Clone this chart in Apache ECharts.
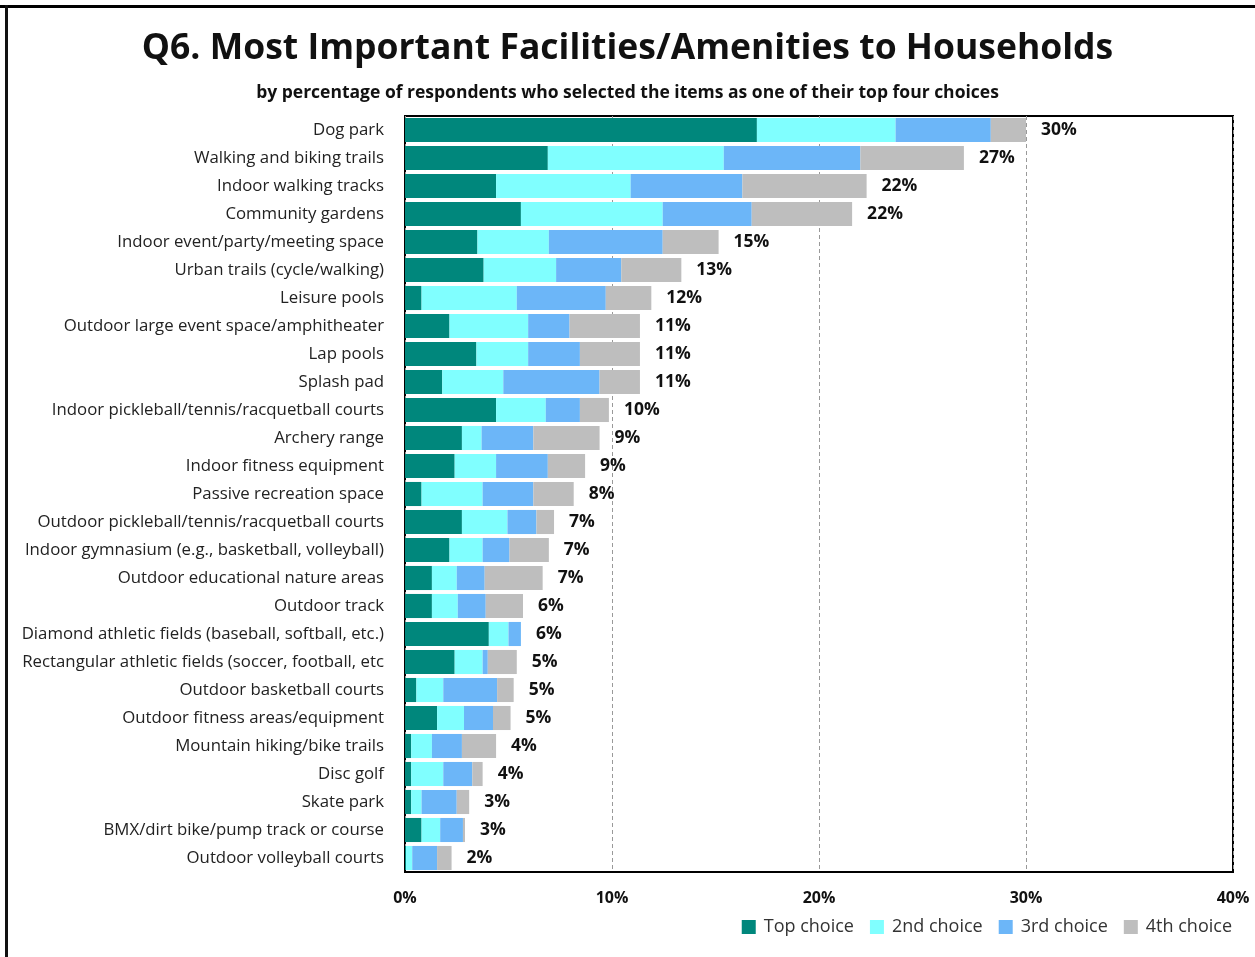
<!DOCTYPE html>
<html>
<head>
<meta charset="utf-8">
<script src="https://cdn.jsdelivr.net/npm/echarts@6/dist/echarts.min.js"></script>
<style>
  html, body { margin: 0; padding: 0; background: #fff; }
  #chart { width: 1255px; height: 957px; }
</style>
</head>
<body>
<div id="chart"></div>
<script>
// Facilities / amenities, ordered from most to least selected
const categories = [
  'Dog park',
  'Walking and biking trails',
  'Indoor walking tracks',
  'Community gardens',
  'Indoor event/party/meeting space',
  'Urban trails (cycle/walking)',
  'Leisure pools',
  'Outdoor large event space/amphitheater',
  'Lap pools',
  'Splash pad',
  'Indoor pickleball/tennis/racquetball courts',
  'Archery range',
  'Indoor fitness equipment',
  'Passive recreation space',
  'Outdoor pickleball/tennis/racquetball courts',
  'Indoor gymnasium (e.g., basketball, volleyball)',
  'Outdoor educational nature areas',
  'Outdoor track',
  'Diamond athletic fields (baseball, softball, etc.)',
  'Rectangular athletic fields (soccer, football, etc',
  'Outdoor basketball courts',
  'Outdoor fitness areas/equipment',
  'Mountain hiking/bike trails',
  'Disc golf',
  'Skate park',
  'BMX/dirt bike/pump track or course',
  'Outdoor volleyball courts'
];

// Percent of respondents choosing each item as their 1st..4th choice
const topChoice = [17.0, 6.9, 4.4, 5.6, 3.5, 3.8, 0.8, 2.15, 3.45, 1.8, 4.4, 2.75, 2.4, 0.8, 2.75, 2.15, 1.3, 1.3, 4.05, 2.4, 0.55, 1.55, 0.3, 0.3, 0.3, 0.8, 0.05];
const secondChoice = [6.7, 8.5, 6.5, 6.85, 3.45, 3.5, 4.6, 3.8, 2.5, 2.95, 2.4, 0.95, 2.0, 2.95, 2.2, 1.6, 1.2, 1.25, 0.95, 1.35, 1.3, 1.3, 1.0, 1.55, 0.5, 0.9, 0.3];
const thirdChoice = [4.6, 6.6, 5.4, 4.3, 5.5, 3.15, 4.3, 2.0, 2.5, 4.65, 1.65, 2.5, 2.5, 2.45, 1.4, 1.3, 1.35, 1.35, 0.6, 0.25, 2.6, 1.4, 1.45, 1.4, 1.7, 1.1, 1.2];
const fourthChoice = [1.7, 5.0, 6.0, 4.85, 2.7, 2.9, 2.2, 3.4, 2.9, 1.95, 1.4, 3.2, 1.8, 1.95, 0.85, 1.9, 2.8, 1.8, 0.0, 1.4, 0.8, 0.85, 1.65, 0.5, 0.6, 0.1, 0.7];

const seriesNames = ['Top choice', '2nd choice', '3rd choice', '4th choice'];
const xTicks = [0, 10, 20, 30, 40];

const colors = ['#00877C', '#80FFFF', '#6CB6F8', '#BEBEBE'];
const totals = categories.map((_, i) =>
  topChoice[i] + secondChoice[i] + thirdChoice[i] + fourthChoice[i]);

const chart = echarts.init(document.getElementById('chart'), null, { renderer: 'canvas' });

const font = 'Open Sans, Noto Sans, sans-serif';
const allValues = [topChoice, secondChoice, thirdChoice, fourthChoice];

const series = allValues.map((vals, k) => ({
  name: seriesNames[k],
  type: 'bar',
  stack: 'total',
  barCategoryGap: '14%',
  data: vals,
  itemStyle: { color: colors[k] },
  silent: true,
  label: k === 3 ? {
    show: true,
    position: 'right',
    distance: 15,
    fontFamily: font,
    fontWeight: 'bold',
    fontSize: 17.5,
    color: '#111',
    formatter: p => Math.round(totals[p.dataIndex]) + '%'
  } : { show: false }
}));

chart.setOption({
  animation: false,
  color: colors,
  title: [{
    text: 'Q6. Most Important Facilities/Amenities to Households',
    left: 'center',
    top: 26,
    textStyle: { fontFamily: font, fontWeight: 'bold', fontSize: 35.5, color: '#111' }
  }, {
    text: 'by percentage of respondents who selected the items as one of their top four choices',
    left: 'center',
    top: 79,
    textStyle: { fontFamily: font, fontWeight: 'bold', fontSize: 17.5, color: '#111' }
  }],
  legend: {
    data: seriesNames,
    right: 18,
    top: 913,
    icon: 'rect',
    itemWidth: 14,
    itemHeight: 14,
    itemGap: 16,
    textStyle: { fontFamily: font, fontSize: 18, color: '#333', padding: [0, 0, 0, 3] }
  },
  grid: {
    left: 405,
    right: 22,
    top: 116,
    bottom: 85,
    show: true,
    borderColor: '#000',
    borderWidth: 2,
    containLabel: false
  },
  xAxis: {
    type: 'value',
    min: xTicks[0],
    max: xTicks[xTicks.length - 1],
    interval: 10,
    axisLine: { show: false },
    axisTick: { show: false },
    axisLabel: {
      formatter: '{value}%',
      margin: 18,
      fontFamily: font,
      fontWeight: 'bold',
      fontSize: 16,
      color: '#111'
    },
    splitLine: { show: true, lineStyle: { color: '#999', type: [4, 3], width: 1 } }
  },
  yAxis: {
    type: 'category',
    data: categories,
    inverse: true,
    axisLine: { show: false },
    axisTick: { show: false },
    axisLabel: {
      margin: 21,
      fontFamily: font,
      fontSize: 16.8,
      color: '#222'
    }
  },
  series: series,
  graphic: [
    { type: 'rect', shape: { x: 0, y: 5, width: 1255, height: 3 }, style: { fill: '#000' }, silent: true },
    { type: 'rect', shape: { x: 5, y: 5, width: 3, height: 952 }, style: { fill: '#111' }, silent: true }
  ]
});
</script>
</body>
</html>
